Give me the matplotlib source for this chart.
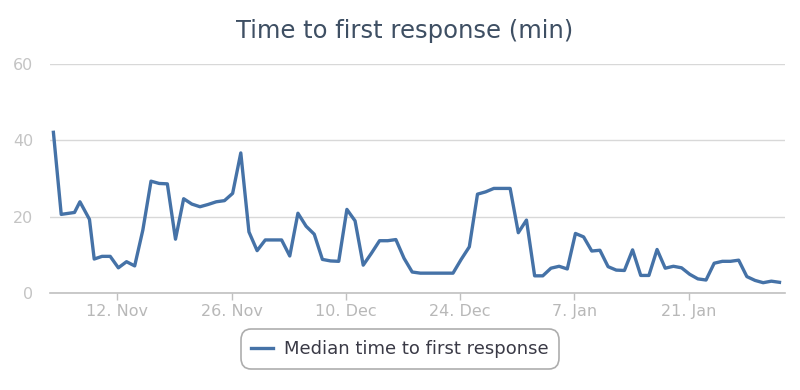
import numpy as np
import pandas as pd
import matplotlib
matplotlib.use('Agg')
import matplotlib.pyplot as plt
import matplotlib.dates as mdates

# first few samples come at irregular times, then one per day
early_times = ['2018-11-04 04:00', '2018-11-05 03:00', '2018-11-06 18:00',
               '2018-11-07 10:00', '2018-11-08 14:00', '2018-11-09 04:00']
early_values = [42.1, 20.6, 21.1, 23.9, 19.3, 8.9]

daily_start = '2018-11-10 03:00'
daily_values = [
    9.6, 9.6, 6.6, 8.2, 7.1, 16.5, 29.3, 28.7, 28.6, 14.1,      # 10-19 Nov
    24.7, 23.3, 22.6, 23.2, 23.9, 24.2, 26.1, 36.7, 16.0, 11.1,  # 20-29 Nov
    13.9, 13.9, 13.9, 9.7, 20.9, 17.5, 15.4, 8.8, 8.4, 8.3,      # 30 Nov-9 Dec
    21.9, 18.9, 7.3, 10.4, 13.7, 13.7, 14.0, 9.1, 5.5, 5.2,      # 10-19 Dec
    5.2, 5.2, 5.2, 5.2, 8.8, 12.1, 25.9, 26.5, 27.4, 27.4,       # 20-29 Dec
    27.4, 15.8, 19.1, 4.5, 4.5, 6.5, 7.0, 6.3, 15.6, 14.7,       # 30 Dec-8 Jan
    11.0, 11.2, 6.9, 6.0, 5.9, 11.3, 4.6, 4.6, 11.4, 6.5,        # 9-18 Jan
    7.0, 6.6, 4.9, 3.7, 3.4, 7.8, 8.3, 8.3, 8.6, 4.3,            # 19-28 Jan
    3.3, 2.7, 3.1, 2.8,                                          # 29 Jan-1 Feb
]

times = list(pd.to_datetime(early_times)) + list(
    pd.date_range(daily_start, periods=len(daily_values), freq='D'))
values = early_values + daily_values

tick_dates = pd.date_range('2018-11-12', '2019-01-21', freq='14D')

fig = plt.figure(figsize=(8, 3.9), dpi=100)
ax = fig.add_axes([50 / 800, 1 - 293 / 390, 735 / 800, 229 / 390])

ax.plot(times, values, color='#4572a7', lw=2.4, label='Median time to first response',
        solid_joinstyle='round', zorder=3)

ref = pd.Timestamp('2018-11-12')
ax.set_xlim(ref - pd.Timedelta(days=8.25), ref + pd.Timedelta(days=81.8))
ax.set_ylim(0, 60)

ax.set_yticks([0, 20, 40, 60])
ax.grid(axis='y', color='#d8d8d8', lw=1)
ax.set_axisbelow(True)
for s in ['top', 'right', 'left']:
    ax.spines[s].set_visible(False)
ax.spines['bottom'].set_color('#c0c0c0')
ax.spines['bottom'].set_linewidth(1.2)

ax.set_xticks(tick_dates)
ax.xaxis.set_major_formatter(mdates.DateFormatter('%-d. %b'))
ax.tick_params(axis='x', colors='#c0c0c0', length=5, width=1, labelsize=11.5,
               pad=3, labelcolor='#b8b8b8')
ax.tick_params(axis='y', length=0, labelsize=11.5, pad=12, labelcolor='#c4c4c4')

fig.text(0.5 + 5 / 800, 1 - 31 / 390, 'Time to first response (min)', ha='center',
         va='center', fontsize=17.5, color='#3e4f63')

leg = ax.legend(loc='center', bbox_to_anchor=(0.5, 1 - 349 / 390),
                bbox_transform=fig.transFigure,
                frameon=True, fancybox=True, fontsize=13, handlelength=1.2,
                borderpad=0.35, handletextpad=0.6, edgecolor='#999999')
leg.get_frame().set_linewidth(1.2)
leg.get_frame().set_boxstyle('round,pad=0.25,rounding_size=0.6')
for t in leg.get_texts():
    t.set_color('#3a3a46')

fig.savefig('out.png', dpi=100)
